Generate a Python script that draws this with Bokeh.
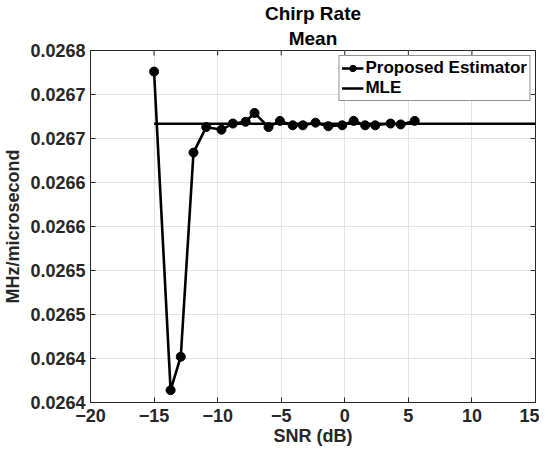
import math
from bokeh.plotting import figure
from bokeh.models import Range1d, FixedTicker, Legend, LegendItem, Title
from bokeh.embed import file_html
from bokeh.resources import INLINE

# ---- data ----
snr = [-15.0, -13.7, -12.9, -11.9, -10.9, -9.7, -8.8, -7.8, -7.1, -6.0, -5.1,
       -4.1, -3.3, -2.3, -1.3, -0.2, 0.7, 1.6, 2.4, 3.6, 4.4, 5.5]
proposed = [0.026776, 0.026414, 0.026452, 0.026684, 0.026713, 0.026710,
            0.026717, 0.026719, 0.026729, 0.026713, 0.026720, 0.026715,
            0.026715, 0.026718, 0.026714, 0.026715, 0.026720, 0.026715,
            0.026715, 0.026717, 0.026716, 0.026720]
mle_snr = [-15.0, 15.0]
mle = [0.0267168, 0.0267168]

x_min, x_max = -20, 15
y_min, y_max = 0.0264, 0.0268
x_ticks = [-20, -15, -10, -5, 0, 5, 10, 15]
y_ticks = [0.02640, 0.02645, 0.02650, 0.02655, 0.02660, 0.02665, 0.02670, 0.02675, 0.02680]
y_tick_labels = ["0.0264", "0.0264", "0.0265", "0.0265", "0.0266", "0.0266", "0.0267", "0.0267", "0.0268"]

title_lines = ["Chirp Rate", "Mean"]
x_label = "SNR (dB)"
y_label = "MHz/microsecond"
series_names = ["Proposed Estimator", "MLE"]

FONT = "Liberation Sans"
DARK = "#262626"

p = figure(frame_width=445, frame_height=352, output_backend="svg", toolbar_location=None,
           title=None,
           x_range=Range1d(x_min, x_max), y_range=Range1d(y_min, y_max),
           min_border_left=85, min_border_right=4, min_border_top=43, min_border_bottom=40)

title_standoffs = [0, 4]
for line, so in reversed(list(zip(title_lines, title_standoffs))):
    p.add_layout(Title(text=line, align="center", text_font=FONT, text_font_size="19px",
                       text_font_style="bold", text_color="black", standoff=so, offset=0),
                 "above")

p.outline_line_color = DARK
p.outline_line_width = 1
p.background_fill_color = "white"
p.border_fill_color = "white"

for ax in (p.xaxis[0], p.yaxis[0]):
    ax.major_tick_in = 5
    ax.major_tick_out = 0
    ax.minor_tick_in = 0
    ax.minor_tick_out = 0
    ax.axis_line_color = DARK
    ax.major_tick_line_color = DARK
    ax.major_label_text_font = FONT
    ax.major_label_text_font_size = "18px"
    ax.major_label_text_font_style = "bold"
    ax.major_label_text_color = DARK
    ax.axis_label_text_font = FONT
    ax.axis_label_text_font_size = "18px"
    ax.axis_label_text_font_style = "bold"
    ax.axis_label_text_color = DARK

p.xaxis[0].ticker = FixedTicker(ticks=x_ticks)
p.yaxis[0].ticker = FixedTicker(ticks=y_ticks)
p.yaxis[0].major_label_overrides = {t: s for t, s in zip(y_ticks, y_tick_labels)}
p.xaxis[0].axis_label = x_label
p.yaxis[0].axis_label = y_label
p.xaxis[0].major_label_standoff = 6
p.yaxis[0].major_label_standoff = 5
p.xaxis[0].axis_label_standoff = 1
p.yaxis[0].axis_label_standoff = 4

p.xgrid.ticker = FixedTicker(ticks=x_ticks)
p.ygrid.ticker = FixedTicker(ticks=y_ticks)
p.xgrid.grid_line_color = "#e3e3e3"
p.ygrid.grid_line_color = "#e3e3e3"

# mirrored inward ticks on right and top edges
p.ray(x=[x_max] * len(y_ticks), y=y_ticks, length=5, length_units="screen",
      angle=math.pi, line_color=DARK, line_width=1)
p.ray(x=x_ticks, y=[y_max] * len(x_ticks), length=5, length_units="screen",
      angle=-math.pi / 2, line_color=DARK, line_width=1)

r_mle = p.line(mle_snr, mle, line_color="black", line_width=2.6)
r_line = p.line(snr, proposed, line_color="black", line_width=2.6)
r_pts = p.scatter(snr, proposed, size=9, marker="circle", fill_color="black", line_color="black")

legend = Legend(items=[LegendItem(label=series_names[0], renderers=[r_line, r_pts]),
                       LegendItem(label=series_names[1], renderers=[r_mle])],
                location="top_right")
legend.label_text_font = FONT
legend.label_text_font_size = "17px"
legend.label_text_font_style = "bold"
legend.label_text_color = "black"
legend.border_line_color = DARK
legend.border_line_width = 1
legend.background_fill_alpha = 1
legend.glyph_width = 22
legend.glyph_height = 16
legend.label_height = 16
legend.label_standoff = 2
legend.spacing = 0
legend.padding = 2
legend.margin = 5
p.add_layout(legend, "center")

open("out.html", "w").write(file_html(p, INLINE))
